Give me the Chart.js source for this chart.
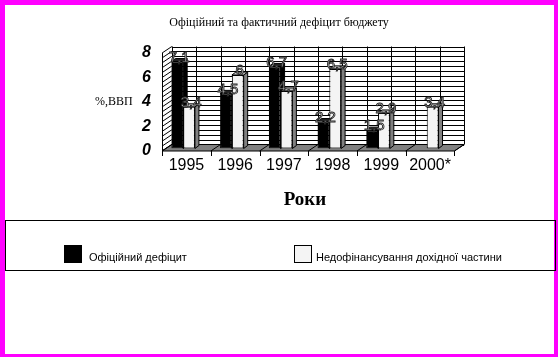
<!DOCTYPE html>
<html><head><meta charset="utf-8">
<script src="https://cdn.jsdelivr.net/npm/chart.js@4/dist/chart.umd.min.js"></script>
<style>
html,body{margin:0;padding:0;background:#fff;}
#wrap{position:relative;width:558px;height:357px;overflow:hidden;background:#fff;}
canvas{position:absolute;left:0;top:0;}
#frame{position:absolute;left:0;top:0;width:558px;height:357px;box-sizing:border-box;border-style:solid;border-color:#ff00ff;border-width:5px 4px 3px 5px;pointer-events:none;z-index:2}
#legend{position:absolute;left:5px;top:220px;width:551px;height:51px;box-sizing:border-box;border:1px solid #000;z-index:3;font-family:"Liberation Sans",Arial,sans-serif;font-size:11px;color:#000;}
.sw{position:absolute;top:24px;width:18px;height:18px;box-sizing:border-box;border:1px solid #000;}
.lt{position:absolute;top:30px;line-height:13px;white-space:nowrap;}
</style></head>
<body>
<div id="wrap">
<canvas id="c" width="558" height="357"></canvas>
<div id="frame"></div>
<div id="legend"></div>
</div>
<script>
const categories = ['1995', '1996', '1997', '1998', '1999', '2000*'];
const officialDeficit = [7.1, 4.5, 6.7, 2.2, 1.5, null];
const revenueShortfall = [3.4, 6.0, 4.7, 6.5, 2.9, 3.4];
const seriesNames = ['Офіційний дефіцит', 'Недофінансування дохідної частини'];
const yTickLabels = [0, 2, 4, 6, 8];
const chartTitle = 'Офіційний та фактичний дефіцит бюджету';
const xTitle = 'Роки';
const yTitle = '%,ВВП';

const frontColors = ['#000000', '#f4f4f4'];
const sideColors = ['#000000', '#808080'];
const topColors = ['#222222', '#c8c8c8'];
const D = {fx: 3.3, fy: 2.5, bx: 13, by: -4, dx: 4, dy: 3};

// HTML legend
const legendPos = [{sw: 58, tx: 83}, {sw: 288, tx: 310}];
const lg = document.getElementById('legend');
seriesNames.forEach((n, i) => {
  const s = document.createElement('div'); s.className = 'sw';
  s.style.left = legendPos[i].sw + 'px'; s.style.background = frontColors[i];
  const t = document.createElement('div'); t.className = 'lt';
  t.style.left = legendPos[i].tx + 'px'; t.textContent = n;
  lg.appendChild(s); lg.appendChild(t);
});

const fmt = v => String(v).replace('.', ',');

const threeD = {
  id: 'threeD',
  beforeDatasetsDraw(chart) {
    const {ctx, chartArea: a, scales: {x, y}} = chart;
    const n = categories.length;
    const half = (x.getPixelForValue(1) - x.getPixelForValue(0)) / 2;
    const centers = categories.map((c, i) => x.getPixelForValue(i));
    const bounds = centers.map(c => c - half).concat([centers[n - 1] + half]);
    const yt = y.ticks.map(t => y.getPixelForValue(t.value));
    ctx.save();
    ctx.lineWidth = 1;
    ctx.strokeStyle = '#000';
    // back wall
    ctx.fillStyle = '#fff';
    ctx.fillRect(a.left + D.bx, a.top + D.by, a.right - a.left, a.bottom - a.top);
    ctx.beginPath();
    yt.forEach(py => { ctx.moveTo(a.left + D.bx, Math.round(py + D.by) + 0.5); ctx.lineTo(a.right + D.bx, Math.round(py + D.by) + 0.5); });
    bounds.concat(centers).forEach(px => { ctx.moveTo(Math.round(px + D.bx) + 0.5, a.top + D.by); ctx.lineTo(Math.round(px + D.bx) + 0.5, a.bottom + D.by); });
    ctx.stroke();
    // side wall
    ctx.beginPath();
    yt.forEach(py => { ctx.moveTo(a.left + D.fx, py + D.fy); ctx.lineTo(a.left + D.bx, py + D.by); });
    ctx.moveTo(Math.round(a.left + D.fx) + 0.5, a.top + D.fy); ctx.lineTo(Math.round(a.left + D.fx) + 0.5, a.bottom + D.fy);
    ctx.stroke();
    // floor
    ctx.beginPath();
    ctx.moveTo(a.left + D.fx, a.bottom + D.fy);
    ctx.lineTo(a.right + D.fx, a.bottom + D.fy);
    ctx.lineTo(a.right + D.bx, a.bottom + D.by);
    ctx.lineTo(a.left + D.bx, a.bottom + D.by);
    ctx.closePath();
    ctx.fillStyle = '#808080'; ctx.fill(); ctx.stroke();
    ctx.beginPath();
    bounds.forEach(px => {
      ctx.moveTo(px + D.fx, a.bottom + D.fy); ctx.lineTo(px + D.bx, a.bottom + D.by);
      ctx.moveTo(Math.round(px + D.fx) + 0.5, a.bottom + D.fy); ctx.lineTo(Math.round(px + D.fx) + 0.5, a.bottom + D.fy + 5);
    });
    ctx.stroke();
    // bar side/top faces
    chart.data.datasets.forEach((ds, di) => {
      const meta = chart.getDatasetMeta(di);
      meta.data.forEach((el, i) => {
        if (ds.data[i] === null || el.skip || isNaN(el.y)) return;
        const L = el.x - el.width / 2, R = el.x + el.width / 2, T = el.y, B = el.base;
        ctx.beginPath();
        ctx.moveTo(R, T); ctx.lineTo(R + D.dx, T - D.dy); ctx.lineTo(R + D.dx, B - D.dy); ctx.lineTo(R, B); ctx.closePath();
        ctx.fillStyle = sideColors[di]; ctx.fill(); ctx.stroke();
        ctx.beginPath();
        ctx.moveTo(L, T); ctx.lineTo(L + D.dx, T - D.dy); ctx.lineTo(R + D.dx, T - D.dy); ctx.lineTo(R, T); ctx.closePath();
        ctx.fillStyle = topColors[di]; ctx.fill(); ctx.stroke();
      });
    });
    ctx.restore();
  },
  afterDatasetsDraw(chart) {
    const {ctx, chartArea: a} = chart;
    ctx.save();
    ctx.font = '15px "Liberation Sans", Arial';
    ctx.textAlign = 'center'; ctx.textBaseline = 'middle';
    ctx.lineWidth = 0.9; ctx.strokeStyle = '#222'; ctx.fillStyle = '#fff';
    chart.data.datasets.forEach((ds, di) => {
      chart.getDatasetMeta(di).data.forEach((el, i) => {
        const v = ds.data[i];
        if (v === null || v === undefined) return;
        const t = fmt(v);
        ctx.fillText(t, el.x + 2, el.y - 4);
        ctx.strokeText(t, el.x + 2, el.y - 4);
      });
    });
    ctx.font = '12px "Liberation Serif", "Times New Roman", serif';
    ctx.textAlign = 'left'; ctx.fillStyle = '#000';
    ctx.fillText(yTitle, a.left - 63.8, (a.top + a.bottom) / 2 + D.fy);
    ctx.restore();
  }
};

new Chart(document.getElementById('c'), {
  type: 'bar',
  data: {
    labels: categories,
    datasets: [
      {label: seriesNames[0], data: officialDeficit, backgroundColor: frontColors[0], borderColor: '#000', borderWidth: 1, borderSkipped: false},
      {label: seriesNames[1], data: revenueShortfall, backgroundColor: frontColors[1], borderColor: '#000', borderWidth: 1, borderSkipped: false}
    ]
  },
  options: {
    responsive: false,
    maintainAspectRatio: false,
    animation: false,
    devicePixelRatio: 1,
    layout: {padding: {left: 0, right: 0, top: 0, bottom: 128.5}},
    datasets: {bar: {categoryPercentage: 0.484, barPercentage: 1.0}},
    plugins: {
      legend: {display: false},
      tooltip: {enabled: false},
      title: {display: true, text: chartTitle, color: '#000',
        font: {family: '"Liberation Serif", "Times New Roman", serif', size: 12, weight: 'normal'},
        padding: {top: 15.3, bottom: 20.8}}
    },
    scales: {
      x: {
        type: 'category', offset: true,
        grid: {display: false, drawTicks: false}, border: {display: false},
        ticks: {color: '#000', font: {family: '"Liberation Sans", Arial', size: 16}, padding: 7, labelOffset: 3.3, maxRotation: 0, autoSkip: false},
        title: {display: true, text: xTitle, color: '#000', font: {family: '"Liberation Serif", "Times New Roman", serif', size: 19, weight: 'bold'}, padding: {top: 0, bottom: 17}},
        afterFit: s => { s.height = 80; }
      },
      y: {
        min: 0, max: 8,
        grid: {display: false, drawTicks: false}, border: {display: false},
        ticks: {stepSize: 0.4, autoSkip: false, color: '#000', padding: 8, labelOffset: 2.5,
          font: {family: '"Liberation Sans", Arial', size: 16, weight: 'bold', style: 'italic'},
          callback: v => { const r = Math.round(v * 10) / 10; return yTickLabels.includes(r) ? String(r) : ''; }},
        afterFit: s => { s.width = 158.8; }
      },
      y2: {
        position: 'right', display: true,
        grid: {display: false, drawTicks: false}, border: {display: false},
        ticks: {display: false},
        afterFit: s => { s.width = 106.9; }
      }
    }
  },
  plugins: [threeD]
});
</script>
</body></html>
